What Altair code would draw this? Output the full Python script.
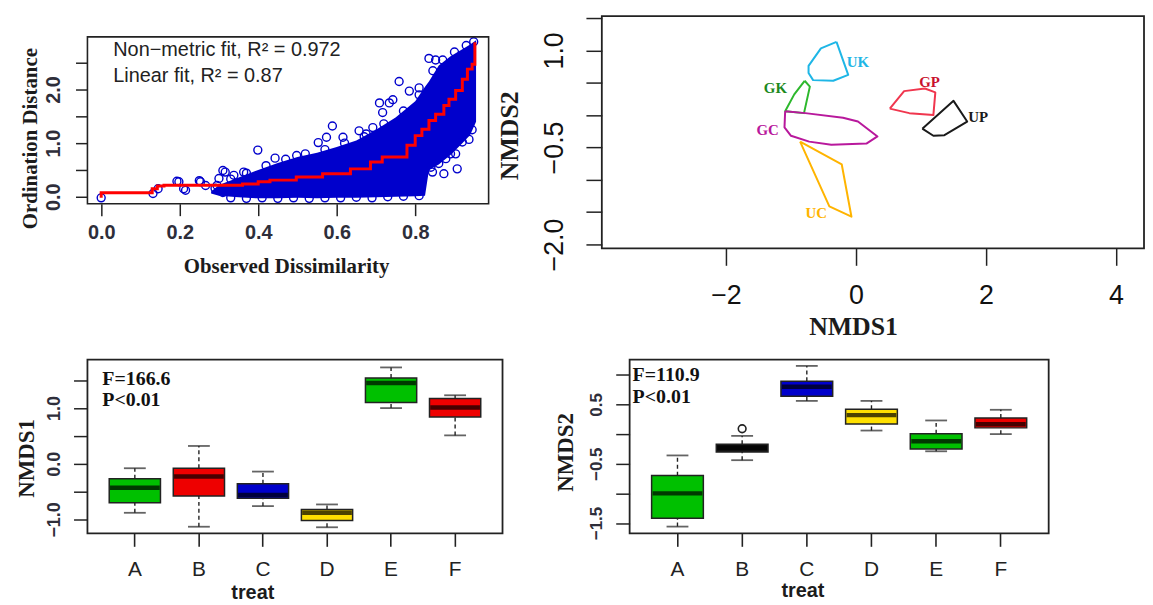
import altair as alt
import pandas as pd

SANS = "Liberation Sans"
SERIF = "Liberation Serif"
INK = "#1c1c1c"
TICKLAB = "#2e2e3a"
PT_BLUE = "#0000CC"

# ---------------- Shepard diagram (top left) ----------------
band_x = [0.28, 0.30, 0.35, 0.40, 0.45, 0.50, 0.55, 0.60, 0.65, 0.70, 0.75, 0.80, 0.825, 0.835, 0.86, 0.89, 0.92, 0.94, 0.955]
band_hi = [0.10, 0.22, 0.36, 0.50, 0.63, 0.74, 0.82, 0.93, 1.05, 1.25, 1.48, 1.78, 2.05, 2.15, 2.45, 2.62, 2.75, 2.84, 2.92]
band_lo = [0.06, 0.02, -0.01, -0.03, -0.03, -0.02, -0.03, -0.02, -0.02, -0.01, 0.00, 0.01, 0.02, 0.50, 0.60, 0.78, 1.00, 1.15, 1.40]

pt_x = [0.0, 0.132, 0.145, 0.193, 0.198, 0.21, 0.215, 0.25, 0.253, 0.266, 0.295, 0.30, 0.31, 0.316, 0.338, 0.363,
        0.399, 0.443, 0.498, 0.553, 0.574, 0.589, 0.616, 0.657, 0.675, 0.692, 0.709, 0.717, 0.734, 0.743, 0.759,
        0.785, 0.810, 0.835, 0.852, 0.844, 0.873, 0.907, 0.903, 0.878, 0.937, 0.949,
        0.29, 0.31, 0.33, 0.37, 0.41, 0.45, 0.49, 0.53, 0.57, 0.61, 0.65, 0.69, 0.73, 0.77, 0.81,
        0.33, 0.37, 0.42, 0.47, 0.52, 0.57, 0.62, 0.67, 0.72, 0.77, 0.81, 0.845, 0.87, 0.90, 0.93,
        0.84, 0.86, 0.89, 0.92, 0.945]
pt_y = [-0.02, 0.06, 0.15, 0.29, 0.28, 0.15, 0.12, 0.30, 0.28, 0.21, 0.21, 0.34, 0.49, 0.46, 0.40, 0.46,
        0.87, 0.72, 0.77, 1.01, 1.11, 1.32, 1.11, 1.23, 1.17, 1.29, 1.75, 1.57, 1.75, 1.81, 2.15,
        1.97, 2.03, 2.58, 2.55, 0.46, 0.43, 0.52, 0.80, 0.71, 1.07, 2.89,
        0.16, 0.08, -0.02, -0.03, -0.02, -0.03, -0.02, -0.03, -0.02, -0.02, -0.01, -0.02, 0.00, 0.01, 0.02,
        0.33, 0.44, 0.58, 0.70, 0.80, 0.88, 1.00, 1.12, 1.36, 1.60, 1.90, 2.35, 2.55, 2.70, 2.82,
        0.55, 0.62, 0.80, 1.02, 1.25]

step_x = [0.0, 0.0, 0.13, 0.143, 0.16, 0.36, 0.40, 0.43, 0.497, 0.564, 0.635, 0.686, 0.716, 0.779, 0.80,
          0.817, 0.835, 0.852, 0.873, 0.886, 0.903, 0.92, 0.933, 0.945, 0.952]
step_y = [-0.02, 0.075, 0.15, 0.20, 0.215, 0.24, 0.28, 0.31, 0.37, 0.43, 0.52, 0.65, 0.74, 0.96, 1.14,
          1.26, 1.42, 1.54, 1.70, 1.82, 1.98, 2.19, 2.38, 2.47, 2.88]

fit_lines = ["Non\u2212metric fit, R\u00b2 = 0.972", "Linear fit, R\u00b2 = 0.87"]

# ---------------- NMDS hulls (top right) ----------------
hull_group = ["UK"] * 8 + ["GK"] * 6 + ["GC"] * 11 + ["UC"] * 5 + ["GP"] * 7 + ["UP"] * 6
hull_x = [-0.30, -0.12, -0.35, -0.66, -0.73, -0.73, -0.54, -0.30,
          -0.79, -0.71, -0.80, -1.09, -0.95, -0.79,
          -1.09, -0.78, -0.20, 0.03, 0.33, 0.16, -0.38, -0.72, -1.00, -1.10, -1.09,
          -0.86, -0.22, -0.07, -0.41, -0.86,
          0.52, 0.74, 1.06, 1.22, 1.19, 0.82, 0.52,
          1.02, 1.50, 1.71, 1.36, 1.19, 1.02]
hull_y = [1.13, 0.62, 0.53, 0.54, 0.65, 0.76, 1.03, 1.13,
          0.53, 0.44, 0.03, 0.06, 0.32, 0.53,
          0.06, 0.03, -0.04, -0.10, -0.33, -0.44, -0.46, -0.41, -0.32, -0.19, 0.06,
          -0.41, -0.76, -1.57, -1.41, -0.41,
          0.10, 0.37, 0.41, 0.35, 0.00, 0.03, 0.10,
          -0.21, 0.22, -0.10, -0.31, -0.32, -0.21]
lab_group = ["UK", "GK", "GC", "UC", "GP", "UP"]
lab_x = [0.03, -1.24, -1.36, -0.61, 1.13, 1.88]
lab_y = [0.82, 0.42, -0.23, -1.51, 0.51, -0.03]
hull_colors = ["#1EB6E6", "#2DB82D", "#B8189C", "#FFB400", "#F0364E", "#1a1a1a"]
lab_colors = ["#1EB6E6", "#1D8A1D", "#B8189C", "#FFB400", "#C8102E", "#1a1a1a"]

# ---------------- Boxplots (bottom) ----------------
treat = ["A", "B", "C", "D", "E", "F"]
n1_lo = [-0.88, -1.13, -0.76, -1.14, 1.00, 0.51]
n1_q1 = [-0.70, -0.58, -0.62, -1.02, 1.10, 0.84]
n1_med = [-0.43, -0.23, -0.56, -0.88, 1.45, 1.01]
n1_q3 = [-0.27, -0.08, -0.36, -0.82, 1.54, 1.17]
n1_hi = [-0.08, 0.32, -0.14, -0.73, 1.73, 1.23]

n2_lo = [-1.56, -0.44, 0.56, 0.06, -0.29, 0.00]
n2_q1 = [-1.42, -0.30, 0.64, 0.17, -0.25, 0.105]
n2_med = [-1.00, -0.23, 0.80, 0.32, -0.12, 0.165]
n2_q3 = [-0.70, -0.17, 0.89, 0.42, 0.005, 0.27]
n2_hi = [-0.36, -0.03, 1.15, 0.56, 0.23, 0.41]
n2_out_treat = ["B"]
n2_out = [0.09]

FILL1 = {"A": "#00C000", "B": "#EE0000", "C": "#0000CC", "D": "#FFE000", "E": "#00C000", "F": "#EE0000"}
FILL2 = {"A": "#00C000", "B": "#111111", "C": "#0000CC", "D": "#FFE000", "E": "#00C000", "F": "#EE0000"}


# ======================= Panel 1 =======================
W1, H1 = 404, 189
FRAME_TOP1 = 21
xs1 = alt.Scale(domain=[-0.035, 0.987], nice=False, zero=False)
ys1 = alt.Scale(domain=[-0.13, 3.37], nice=False, zero=False)
ax1x = alt.Axis(values=[0, 0.2, 0.4, 0.6, 0.8], format=".1f", title="Observed Dissimilarity",
                tickSize=12, labelPadding=7, labelFont=SANS, labelFontWeight="bold", labelFontSize=20,
                labelColor=TICKLAB, titleFont=SERIF, titleFontWeight="bold", titleFontSize=21, titleColor=INK,
                titleX=200, titleY=63, titleBaseline="middle", titleAlign="center")
ax1y = alt.Axis(values=[0, 0.5, 1, 1.5, 2, 2.5],
                labelExpr="abs(datum.value - round(datum.value)) < 0.01 ? format(datum.value, '.1f') : ''",
                labelAngle=270, labelAlign="center", labelBaseline="bottom", labelPadding=12,
                tickSize=12, labelFont=SANS, labelFontWeight="bold", labelFontSize=20, labelColor=TICKLAB,
                title="Ordination Distance", titleFont=SERIF, titleFontWeight="bold", titleFontSize=21,
                titleColor=INK, titleX=-57, titleY=123, titleBaseline="middle", titleAlign="center", titleAngle=270)

df_band = pd.DataFrame({"x": band_x, "y": band_hi, "y2": band_lo})
df_pts = pd.DataFrame({"x": pt_x, "y": pt_y})
df_step = pd.DataFrame({"x": step_x, "y": step_y, "i": list(range(len(step_x)))})

X1 = alt.X("x:Q", scale=xs1, axis=ax1x)
Y1 = alt.Y("y:Q", scale=ys1, axis=ax1y)

band = alt.Chart(df_band).mark_area(color=PT_BLUE, opacity=1).encode(x=X1, y=Y1, y2="y2:Q")
pts = alt.Chart(df_pts).mark_point(shape="circle", filled=False, size=64, strokeWidth=1.4,
                                   color=PT_BLUE, opacity=1).encode(x=X1, y=Y1)
step = alt.Chart(df_step).mark_line(color="#FF0000", strokeWidth=3, interpolate="step-after").encode(
    x=X1, y=Y1, order="i:Q")
frame1 = alt.Chart(pd.DataFrame({"k": [0]})).mark_rect(fill="transparent", stroke="#222", strokeWidth=1.6).encode(
    x=alt.value(0), x2=alt.value(W1), y=alt.value(FRAME_TOP1), y2=alt.value(H1))
fit1 = alt.Chart(pd.DataFrame({"t": [fit_lines[0]]})).mark_text(
    align="left", baseline="middle", font=SANS, fontSize=20, color="#222").encode(
    x=alt.value(26), y=alt.value(34), text="t:N")
fit2 = alt.Chart(pd.DataFrame({"t": [fit_lines[1]]})).mark_text(
    align="left", baseline="middle", font=SANS, fontSize=20, color="#222").encode(
    x=alt.value(26), y=alt.value(60), text="t:N")

p1 = alt.layer(band, pts, step, frame1, fit1, fit2).properties(
    width=W1, height=H1, view=alt.ViewBackground(stroke="transparent"))

# ======================= Panel 2 =======================
W2, H2 = 546, 234
xs2 = alt.Scale(domain=[-3.91, 4.43], nice=False, zero=False)
ys2 = alt.Scale(domain=[-2.06, 1.53], nice=False, zero=False)
ax2x = alt.Axis(values=[-2, 0, 2, 4], format="d", tickSize=17, labelPadding=17, labelFont=SANS,
                labelFontSize=27, labelColor="#111", title="NMDS1", titleFont=SERIF, titleFontWeight="bold",
                titleFontSize=26, titleColor=INK, titleX=253, titleY=79, titleBaseline="middle",
                titleAlign="center")
ax2y = alt.Axis(values=[-2, -1.5, -1, -0.5, 0, 0.5, 1, 1.5],
                labelExpr="abs(datum.value - 1) < 0.01 || abs(datum.value + 0.5) < 0.01 || abs(datum.value + 2) < 0.01 ? format(datum.value, '.1f') : ''",
                labelAngle=270, labelAlign="center", labelBaseline="bottom", labelPadding=18, tickSize=16,
                labelFont=SANS, labelFontSize=27, labelColor="#111", title="NMDS2", titleFont=SERIF,
                titleFontWeight="bold", titleFontSize=26, titleColor=INK, titleX=-93, titleY=120,
                titleBaseline="middle", titleAlign="center", titleAngle=270)

df_hull = pd.DataFrame({"group": hull_group, "x": hull_x, "y": hull_y})
df_hull["ord"] = df_hull.groupby("group").cumcount()
df_lab = pd.DataFrame({"label": lab_group, "x": lab_x, "y": lab_y})

X2 = alt.X("x:Q", scale=xs2, axis=ax2x)
Y2 = alt.Y("y:Q", scale=ys2, axis=ax2y)
hulls = alt.Chart(df_hull).mark_line(strokeWidth=2, strokeJoin="round").encode(
    x=X2, y=Y2, order="ord:Q", detail="group:N",
    color=alt.Color("group:N", scale=alt.Scale(domain=lab_group, range=hull_colors), legend=None))
labels = alt.Chart(df_lab).mark_text(font=SERIF, fontWeight="bold", fontSize=15, align="center",
                                     baseline="middle").encode(
    x=X2, y=Y2, text="label:N",
    color=alt.Color("label:N", scale=alt.Scale(domain=lab_group, range=lab_colors), legend=None))
p2 = alt.layer(hulls, labels).resolve_scale(color="independent").properties(width=W2, height=H2)


# ======================= Boxplot panels =======================
def box_panel(lo, q1, med, q3, hi, fills, W, H, ydom, yvals, lab_expr, ytitle, ann_y, ann_x,
              ytitle_x, ytitle_y, xtitle_x, xtitle_y, ylab_size, out_treat=None, out_val=None):
    df = pd.DataFrame({"treat": treat, "lo": lo, "q1": q1, "med": med, "q3": q3, "hi": hi})
    df["fill"] = [fills[t] for t in treat]
    xsc = alt.Scale(domain=treat, paddingInner=0.2, paddingOuter=0.34)
    ysc = alt.Scale(domain=ydom, nice=False, zero=False)
    axx = alt.Axis(labelAngle=0, tickSize=13, labelPadding=12, labelFont=SANS, labelFontSize=21,
                   labelColor="#222", title="treat", titleFont=SANS, titleFontWeight="bold",
                   titleFontSize=20, titleColor=INK, titleX=xtitle_x, titleY=xtitle_y,
                   titleBaseline="middle", titleAlign="center", tickColor="#222", tickWidth=1.6)
    axy = alt.Axis(values=yvals, labelExpr=lab_expr, labelAngle=270, labelAlign="center",
                   labelBaseline="bottom", labelPadding=10, tickSize=14, labelFont=SANS,
                   labelFontWeight="bold", labelFontSize=ylab_size, labelColor=TICKLAB, title=ytitle,
                   titleFont=SERIF, titleFontWeight="bold", titleFontSize=23, titleColor=INK,
                   titleX=ytitle_x, titleY=ytitle_y, titleBaseline="middle", titleAlign="center",
                   titleAngle=270)
    X = alt.X("treat:N", scale=xsc, axis=axx)
    base = alt.Chart(df)
    w_up = base.mark_rule(color="#222", strokeWidth=1.4, strokeDash=[4, 3]).encode(
        x=X, y=alt.Y("q3:Q", scale=ysc, axis=axy), y2="hi:Q")
    w_lo = base.mark_rule(color="#222", strokeWidth=1.4, strokeDash=[4, 3]).encode(
        x=X, y=alt.Y("lo:Q", scale=ysc, axis=axy), y2="q1:Q")
    cap_hi = base.mark_tick(orient="horizontal", size=22, thickness=1.8, color="#222").encode(
        x=X, y=alt.Y("hi:Q", scale=ysc, axis=axy))
    cap_lo = base.mark_tick(orient="horizontal", size=22, thickness=1.8, color="#222").encode(
        x=X, y=alt.Y("lo:Q", scale=ysc, axis=axy))
    box = base.mark_bar(stroke="#222", strokeWidth=1.5, opacity=1).encode(
        x=X, y=alt.Y("q1:Q", scale=ysc, axis=axy), y2="q3:Q", color=alt.Color("fill:N", scale=None))
    medl = base.mark_tick(orient="horizontal", size=50, thickness=4.5, color="#000").encode(
        x=X, y=alt.Y("med:Q", scale=ysc, axis=axy))
    layers = [w_up, w_lo, cap_hi, cap_lo, box, medl]
    if out_treat:
        dfo = pd.DataFrame({"treat": out_treat, "v": out_val})
        layers.append(alt.Chart(dfo).mark_point(shape="circle", filled=False, size=60, strokeWidth=1.6,
                                                color="#222", opacity=1).encode(
            x=X, y=alt.Y("v:Q", scale=ysc, axis=axy)))
    for txt, yy in ann_y:
        layers.append(alt.Chart(pd.DataFrame({"t": [txt]})).mark_text(
            align="left", baseline="middle", font=SERIF, fontWeight="bold", fontSize=20, color="#111").encode(
            x=alt.value(ann_x), y=alt.value(yy), text="t:N"))
    return alt.layer(*layers).properties(width=W, height=H)


p3 = box_panel(n1_lo, n1_q1, n1_med, n1_q3, n1_hi, FILL1, 418, 175, [-1.25, 1.87],
               [-1, -0.5, 0, 0.5, 1, 1.5],
               "abs(datum.value - round(datum.value)) < 0.01 ? format(datum.value, '.1f') : ''",
               "NMDS1", [("F=166.6", 20), ("P<0.01", 41)], 15, -61, 99, 166, 60, 18)
p4 = box_panel(n2_lo, n2_q1, n2_med, n2_q3, n2_hi, FILL2, 422, 175, [-1.675, 1.256],
               [-1.5, -1, -0.5, 0, 0.5, 1],
               "abs(abs(datum.value) % 1 - 0.5) < 0.01 ? format(datum.value, '.1f') : ''",
               "NMDS2", [("F=110.9", 16), ("P<0.01", 38)], 3, -65, 93, 174, 58, 17,
               out_treat=n2_out_treat, out_val=n2_out)

top = alt.hconcat(p1, p2, spacing=5).resolve_scale(x="independent", y="independent")
bottom = alt.hconcat(p3, p4, spacing=50).resolve_scale(x="independent", y="independent")
chart = alt.vconcat(top, bottom, spacing=18).resolve_scale(x="independent", y="independent").properties(
    padding={"left": 7, "top": 5, "right": 0, "bottom": 0}, background="white"
).configure_axis(grid=False, domain=False, tickColor="#222", tickWidth=1.5).configure_view(
    stroke="#222", strokeWidth=1.8)

chart.save("out.html", embed_options={"renderer": "svg", "actions": False})
